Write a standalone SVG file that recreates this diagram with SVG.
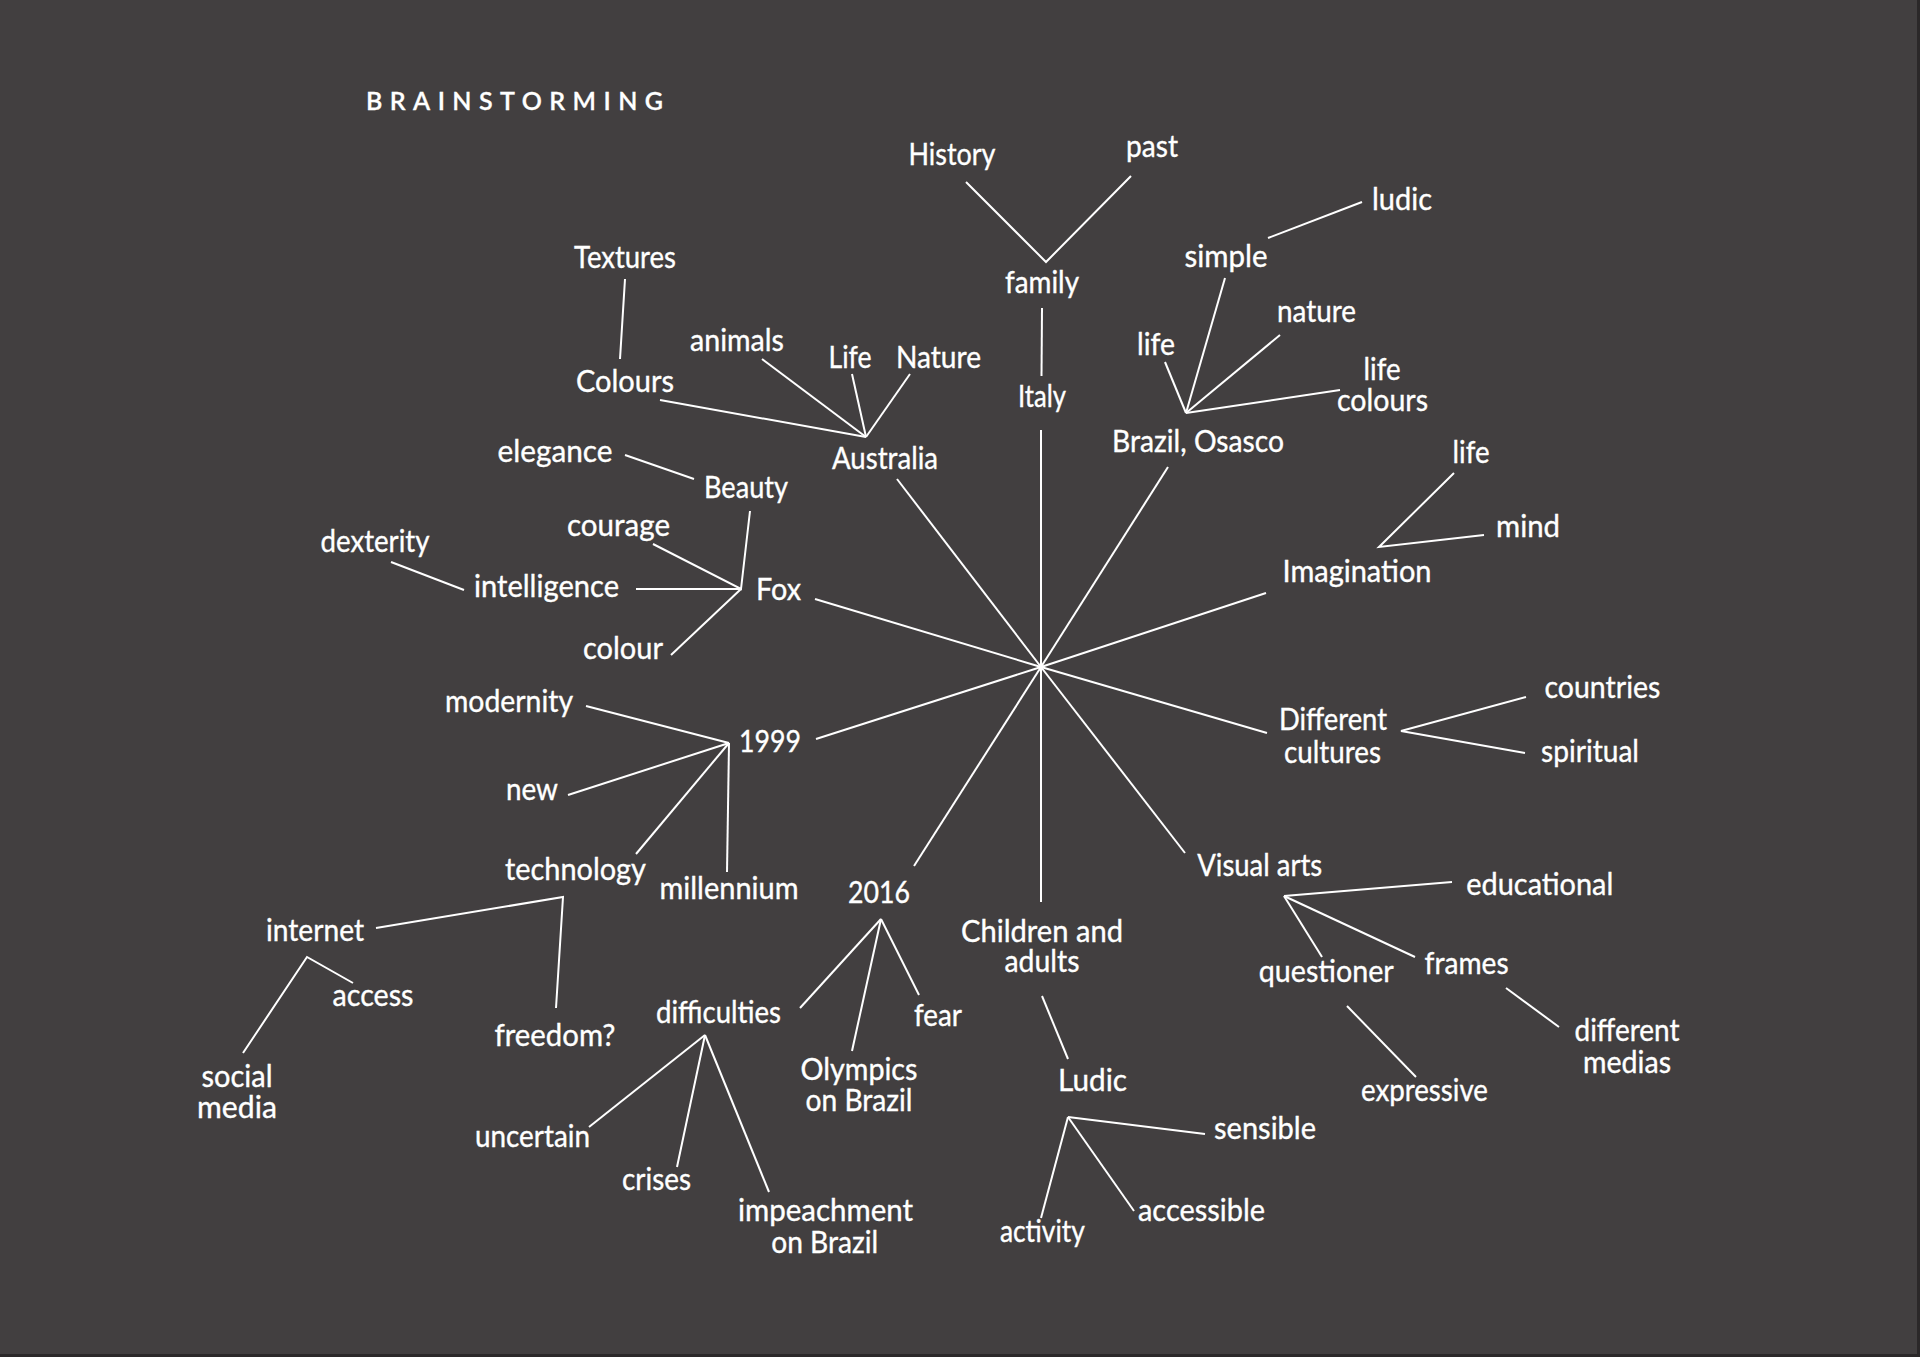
<svg xmlns="http://www.w3.org/2000/svg" width="1920" height="1357" viewBox="0 0 1920 1357">
<style>
.bg{fill:#423f40}
.t{font-family:Lato,"Noto Sans","Liberation Sans",sans-serif;font-size:30px;fill:#ffffff;stroke:#ffffff;stroke-width:0.35px;text-anchor:middle}
.title{font-family:Lato,"Noto Sans","Liberation Sans",sans-serif;font-size:25px;fill:#ffffff;stroke:#ffffff;stroke-width:0.3px;font-weight:600}
#connectors line,#connectors polyline{stroke:#ffffff;stroke-width:2;fill:none;stroke-linejoin:miter}
</style>
<rect class="bg" x="0" y="0" width="1920" height="1357"/>
<line x1="1918.5" y1="0" x2="1918.5" y2="1357" stroke="#2b2829" stroke-width="3"/>
<line x1="0" y1="1355.5" x2="1920" y2="1355.5" stroke="#2b2829" stroke-width="3"/>
<text id="title" class="title" x="366" y="110" textLength="297" lengthAdjust="spacing">BRAINSTORMING</text>
<g id="connectors">
<line x1="1041" y1="667" x2="1041" y2="430"/>
<line x1="1041" y1="667" x2="897" y2="479"/>
<line x1="1041" y1="667" x2="1168" y2="467"/>
<line x1="1041" y1="667" x2="1266" y2="593"/>
<line x1="1041" y1="667" x2="1267" y2="733"/>
<line x1="1041" y1="667" x2="1185" y2="853"/>
<line x1="1041" y1="667" x2="1041" y2="902"/>
<line x1="1041" y1="667" x2="914" y2="866"/>
<line x1="1041" y1="667" x2="816" y2="739"/>
<line x1="1041" y1="667" x2="815" y2="599"/>
<line x1="1042" y1="308" x2="1041.5" y2="376"/>
<polyline points="966,182 1046,262 1131,176"/>
<line x1="866" y1="437" x2="660" y2="400"/>
<line x1="866" y1="437" x2="762" y2="359"/>
<line x1="866" y1="437" x2="852" y2="374"/>
<line x1="866" y1="437" x2="910" y2="374"/>
<line x1="625" y1="279" x2="620" y2="359"/>
<line x1="1186" y1="413" x2="1225" y2="278"/>
<line x1="1186" y1="413" x2="1165" y2="362"/>
<line x1="1186" y1="413" x2="1280" y2="335"/>
<line x1="1186" y1="413" x2="1340" y2="390"/>
<line x1="1268" y1="238" x2="1362" y2="202"/>
<line x1="625" y1="455" x2="694" y2="479"/>
<polyline points="750,511 741,589 653,544"/>
<line x1="741" y1="589" x2="636" y2="589"/>
<line x1="741" y1="589" x2="671" y2="655"/>
<line x1="391" y1="562" x2="464" y2="590"/>
<line x1="729" y1="743" x2="586" y2="706"/>
<line x1="729" y1="743" x2="568" y2="795"/>
<line x1="729" y1="743" x2="636" y2="854"/>
<line x1="729" y1="743" x2="727" y2="872"/>
<polyline points="376,928 563,897 556,1008"/>
<polyline points="353,983 307,957 243,1053"/>
<line x1="881" y1="919" x2="800" y2="1008"/>
<line x1="881" y1="919" x2="852" y2="1051"/>
<line x1="881" y1="919" x2="919" y2="995"/>
<line x1="705" y1="1035" x2="589" y2="1127"/>
<line x1="705" y1="1035" x2="677" y2="1167"/>
<line x1="705" y1="1035" x2="769" y2="1192"/>
<line x1="1042" y1="996" x2="1068" y2="1059"/>
<line x1="1068" y1="1117" x2="1205" y2="1134"/>
<line x1="1068" y1="1117" x2="1134" y2="1211"/>
<line x1="1068" y1="1117" x2="1041" y2="1218"/>
<line x1="1284" y1="896" x2="1452" y2="882"/>
<line x1="1284" y1="896" x2="1322" y2="957"/>
<line x1="1284" y1="896" x2="1415" y2="957"/>
<line x1="1506" y1="988" x2="1559" y2="1027"/>
<line x1="1347" y1="1006" x2="1416" y2="1077"/>
<polyline points="1454,473 1379,547 1484,535"/>
<polyline points="1526,697 1401,731 1525,753"/>
</g>
<g id="n-history"><text class="t" x="952" y="165" textLength="87" lengthAdjust="spacingAndGlyphs">History</text></g>
<g id="n-past"><text class="t" x="1152" y="157" textLength="52" lengthAdjust="spacingAndGlyphs">past</text></g>
<g id="n-family"><text class="t" x="1042" y="293" textLength="74" lengthAdjust="spacingAndGlyphs">family</text></g>
<g id="n-italy"><text class="t" x="1042" y="407" textLength="48" lengthAdjust="spacingAndGlyphs">Italy</text></g>
<g id="n-textures"><text class="t" x="625" y="268" textLength="102" lengthAdjust="spacingAndGlyphs">Textures</text></g>
<g id="n-colours"><text class="t" x="625" y="392" textLength="98" lengthAdjust="spacingAndGlyphs">Colours</text></g>
<g id="n-animals"><text class="t" x="737" y="351" textLength="94" lengthAdjust="spacingAndGlyphs">animals</text></g>
<g id="n-life-au"><text class="t" x="850" y="368" textLength="43" lengthAdjust="spacingAndGlyphs">Life</text></g>
<g id="n-nature-au"><text class="t" x="938.5" y="368" textLength="85" lengthAdjust="spacingAndGlyphs">Nature</text></g>
<g id="n-australia"><text class="t" x="885" y="469" textLength="106" lengthAdjust="spacingAndGlyphs">Australia</text></g>
<g id="n-simple"><text class="t" x="1226" y="267" textLength="83" lengthAdjust="spacingAndGlyphs">simple</text></g>
<g id="n-ludic-br"><text class="t" x="1402" y="210" textLength="60" lengthAdjust="spacingAndGlyphs">ludic</text></g>
<g id="n-nature-br"><text class="t" x="1316.5" y="322" textLength="79" lengthAdjust="spacingAndGlyphs">nature</text></g>
<g id="n-life-br"><text class="t" x="1156" y="355" textLength="38" lengthAdjust="spacingAndGlyphs">life</text></g>
<g id="n-life-colours"><text class="t"><tspan x="1382" y="380" textLength="37" lengthAdjust="spacingAndGlyphs">life</tspan><tspan x="1382.5" y="411" textLength="91" lengthAdjust="spacingAndGlyphs">colours</tspan></text></g>
<g id="n-brazil"><text class="t" x="1198" y="452" textLength="172" lengthAdjust="spacingAndGlyphs">Brazil, Osasco</text></g>
<g id="n-elegance"><text class="t" x="555" y="462" textLength="115" lengthAdjust="spacingAndGlyphs">elegance</text></g>
<g id="n-beauty"><text class="t" x="746" y="498" textLength="84" lengthAdjust="spacingAndGlyphs">Beauty</text></g>
<g id="n-courage"><text class="t" x="618.5" y="536" textLength="103" lengthAdjust="spacingAndGlyphs">courage</text></g>
<g id="n-dexterity"><text class="t" x="375" y="552" textLength="109" lengthAdjust="spacingAndGlyphs">dexterity</text></g>
<g id="n-intelligence"><text class="t" x="546.5" y="597" textLength="145" lengthAdjust="spacingAndGlyphs">intelligence</text></g>
<g id="n-fox"><text class="t" x="778.6" y="600" textLength="45" lengthAdjust="spacingAndGlyphs">Fox</text></g>
<g id="n-colour"><text class="t" x="623" y="659" textLength="80" lengthAdjust="spacingAndGlyphs">colour</text></g>
<g id="n-modernity"><text class="t" x="509" y="712" textLength="128" lengthAdjust="spacingAndGlyphs">modernity</text></g>
<g id="n-1999"><text class="t" x="770" y="752" textLength="62" lengthAdjust="spacingAndGlyphs">1999</text></g>
<g id="n-new"><text class="t" x="532" y="800" textLength="52" lengthAdjust="spacingAndGlyphs">new</text></g>
<g id="n-technology"><text class="t" x="575.5" y="880" textLength="141" lengthAdjust="spacingAndGlyphs">technology</text></g>
<g id="n-millennium"><text class="t" x="729" y="899" textLength="139" lengthAdjust="spacingAndGlyphs">millennium</text></g>
<g id="n-2016"><text class="t" x="879" y="903" textLength="62" lengthAdjust="spacingAndGlyphs">2016</text></g>
<g id="n-internet"><text class="t" x="315" y="941" textLength="98" lengthAdjust="spacingAndGlyphs">internet</text></g>
<g id="n-access"><text class="t" x="373" y="1006" textLength="81" lengthAdjust="spacingAndGlyphs">access</text></g>
<g id="n-freedom"><text class="t" x="555" y="1046" textLength="121" lengthAdjust="spacingAndGlyphs">freedom?</text></g>
<g id="n-social-media"><text class="t"><tspan x="237" y="1087" textLength="71" lengthAdjust="spacingAndGlyphs">social</tspan><tspan x="237" y="1118" textLength="80" lengthAdjust="spacingAndGlyphs">media</tspan></text></g>
<g id="n-difficulties"><text class="t" x="718.5" y="1023" textLength="125" lengthAdjust="spacingAndGlyphs">difficulties</text></g>
<g id="n-uncertain"><text class="t" x="532.5" y="1147" textLength="115" lengthAdjust="spacingAndGlyphs">uncertain</text></g>
<g id="n-crises"><text class="t" x="656.5" y="1190" textLength="69" lengthAdjust="spacingAndGlyphs">crises</text></g>
<g id="n-impeachment"><text class="t"><tspan x="825.5" y="1221" textLength="175" lengthAdjust="spacingAndGlyphs">impeachment</tspan><tspan x="824.7" y="1253" textLength="107" lengthAdjust="spacingAndGlyphs">on Brazil</tspan></text></g>
<g id="n-olympics"><text class="t"><tspan x="859" y="1080" textLength="117" lengthAdjust="spacingAndGlyphs">Olympics</tspan><tspan x="859" y="1111" textLength="107" lengthAdjust="spacingAndGlyphs">on Brazil</tspan></text></g>
<g id="n-fear"><text class="t" x="938" y="1026" textLength="48" lengthAdjust="spacingAndGlyphs">fear</text></g>
<g id="n-children"><text class="t"><tspan x="1042" y="942" textLength="162" lengthAdjust="spacingAndGlyphs">Children and</tspan><tspan x="1042" y="972" textLength="75" lengthAdjust="spacingAndGlyphs">adults</tspan></text></g>
<g id="n-ludic"><text class="t" x="1092.5" y="1091" textLength="69" lengthAdjust="spacingAndGlyphs">Ludic</text></g>
<g id="n-sensible"><text class="t" x="1265" y="1139" textLength="102" lengthAdjust="spacingAndGlyphs">sensible</text></g>
<g id="n-accessible"><text class="t" x="1201.5" y="1221" textLength="127" lengthAdjust="spacingAndGlyphs">accessible</text></g>
<g id="n-activity"><text class="t" x="1042.4" y="1242" textLength="85" lengthAdjust="spacingAndGlyphs">activity</text></g>
<g id="n-visual-arts"><text class="t" x="1259.7" y="876" textLength="125" lengthAdjust="spacingAndGlyphs">Visual arts</text></g>
<g id="n-educational"><text class="t" x="1539.8" y="895" textLength="147" lengthAdjust="spacingAndGlyphs">educational</text></g>
<g id="n-questioner"><text class="t" x="1326.3" y="982" textLength="135" lengthAdjust="spacingAndGlyphs">questioner</text></g>
<g id="n-frames"><text class="t" x="1466.6" y="974" textLength="84" lengthAdjust="spacingAndGlyphs">frames</text></g>
<g id="n-different-medias"><text class="t"><tspan x="1627" y="1041" textLength="105" lengthAdjust="spacingAndGlyphs">different</tspan><tspan x="1627" y="1073" textLength="88" lengthAdjust="spacingAndGlyphs">medias</tspan></text></g>
<g id="n-expressive"><text class="t" x="1424.5" y="1101" textLength="127" lengthAdjust="spacingAndGlyphs">expressive</text></g>
<g id="n-imagination"><text class="t" x="1357" y="582" textLength="149" lengthAdjust="spacingAndGlyphs">Imagination</text></g>
<g id="n-life-im"><text class="t" x="1471" y="463" textLength="37" lengthAdjust="spacingAndGlyphs">life</text></g>
<g id="n-mind"><text class="t" x="1528" y="537" textLength="64" lengthAdjust="spacingAndGlyphs">mind</text></g>
<g id="n-different-cultures"><text class="t"><tspan x="1333" y="730" textLength="108" lengthAdjust="spacingAndGlyphs">Different</tspan><tspan x="1332.5" y="763" textLength="97" lengthAdjust="spacingAndGlyphs">cultures</tspan></text></g>
<g id="n-countries"><text class="t" x="1602.4" y="698" textLength="116" lengthAdjust="spacingAndGlyphs">countries</text></g>
<g id="n-spiritual"><text class="t" x="1590" y="762" textLength="98" lengthAdjust="spacingAndGlyphs">spiritual</text></g>
</svg>
